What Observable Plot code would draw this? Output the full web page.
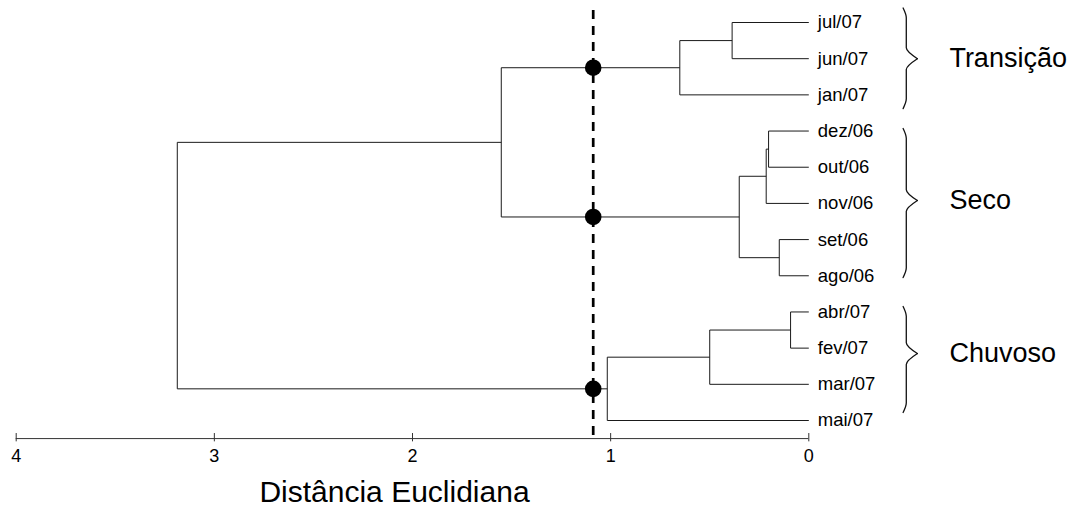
<!DOCTYPE html>
<html>
<head>
<meta charset="utf-8">
<script src="https://cdn.jsdelivr.net/npm/d3@7"></script>
<script src="https://cdn.jsdelivr.net/npm/@observablehq/plot@0.6"></script>
<style>
  html, body { margin: 0; padding: 0; background: #fff; }
</style>
</head>
<body>
<div id="chart"></div>
<script>
// ---- Data ----
const leaves = ["jul/07", "jun/07", "jan/07", "dez/06", "out/06", "nov/06", "set/06", "ago/06", "abr/07", "fev/07", "mar/07", "mai/07"];
// hclust-style merges: negative = leaf (1-based), positive = earlier merge (1-based)
const mergeLeft   = [-1, 1, -4, 3, -7, 4, 2, -9, 8, 9, 7];
const mergeRight  = [-2, -3, -5, -6, -8, 5, 6, -10, -11, -12, 10];
const mergeHeight = [0.387, 0.651, 0.203, 0.215, 0.149, 0.351, 1.552, 0.092, 0.500, 1.017, 3.187];
const cutHeight = 1.088;
const xTicks = [0, 1, 2, 3, 4];
const groupNames  = ["Transição", "Seco", "Chuvoso"];
const braceTop    = [-0.40, 2.93, 7.85];
const braceBottom = [2.38, 7.05, 10.78];
const braceMid    = [1.0, 4.92, 9.15];
const axisTitle = "Distância Euclidiana";

// ---- Build dendrogram geometry from the merges ----
const nodeY = [], nodeH = [], parentH = [];
function childY(c) { return c < 0 ? (-c - 1) : nodeY[c - 1]; }
function childH(c) { return c < 0 ? 0 : nodeH[c - 1]; }
const segments = [];
mergeLeft.forEach((a, i) => {
  const b = mergeRight[i], h = mergeHeight[i];
  const ya = childY(a), yb = childY(b);
  nodeY[i] = (ya + yb) / 2;
  nodeH[i] = h;
  [a, b].forEach(c => { if (c > 0) parentH[c - 1] = h; });
  segments.push({x1: h, y1: ya, x2: h, y2: yb});
  segments.push({x1: childH(a), y1: ya, x2: h, y2: ya});
  segments.push({x1: childH(b), y1: yb, x2: h, y2: yb});
});
const clusterNodes = nodeH.map((h, i) => ({h, y: nodeY[i], p: parentH[i]}))
  .filter(d => d.h < cutHeight && d.p !== undefined && d.p > cutHeight);

// Braces (two halves each, so the tip is a cusp)
const braceEndX = -0.476, braceSpineX = -0.492, braceTipX = -0.548;
const braces = [];
groupNames.forEach((g, i) => {
  const t = braceTop[i], b = braceBottom[i], m = braceMid[i];
  const c = 0.27, e = 0.3;
  braces.push({z: g + "a", x: braceEndX, y: t}, {z: g + "a", x: braceSpineX, y: t + c},
              {z: g + "a", x: braceSpineX, y: m - e}, {z: g + "a", x: braceTipX, y: m});
  braces.push({z: g + "b", x: braceTipX, y: m}, {z: g + "b", x: braceSpineX, y: m + e},
              {z: g + "b", x: braceSpineX, y: b - c}, {z: g + "b", x: braceEndX, y: b});
});
const groups = groupNames.map((g, i) => ({g, y: braceMid[i]}));
const axisY = leaves.length - 0.5;

const chart = Plot.plot({
  width: 1073,
  height: 507,
  marginLeft: 15.7,
  marginRight: 264.7,
  marginTop: 0,
  marginBottom: 68.7,
  x: {domain: [4, 0], range: [15.7, 808.3], axis: null},
  y: {domain: [0, leaves.length - 1], range: [22, 420], axis: null},
  style: {fontFamily: "'Liberation Sans', Arial, Helvetica, sans-serif", background: "#fff", color: "#000"},
  marks: [
    Plot.link(segments, {x1: "x1", y1: "y1", x2: "x2", y2: "y2", stroke: "#1a1a1a", strokeWidth: 1}),
    Plot.text(leaves, {x: () => 0, y: (d, i) => i, text: d => d, textAnchor: "start", dx: 9, fontSize: 18.5, fill: "#000"}),
    // axis
    Plot.ruleY([axisY], {x1: () => xTicks[xTicks.length - 1], x2: () => xTicks[0], stroke: "#333", strokeWidth: 1}),
    Plot.ruleX(xTicks, {x: d => d, y1: () => axisY - 0.14, y2: () => axisY + 0.09, stroke: "#333", strokeWidth: 1}),
    Plot.text(xTicks, {x: d => d, y: () => axisY, dy: 17.5, text: d => String(d), fontSize: 18, fill: "#000"}),
    Plot.text([axisTitle], {frameAnchor: "bottom", lineAnchor: "middle", dx: -18, dy: 53.4, text: d => d, fontSize: 30, fill: "#000"}),
    // cut line and cluster dots
    Plot.ruleX([cutHeight], {x: d => d, y1: () => -0.33, y2: () => axisY, stroke: "#000", strokeWidth: 2.7, strokeDasharray: "9,7"}),
    Plot.dot(clusterNodes, {x: () => cutHeight, y: "y", r: 8.3, fill: "#000", stroke: "none"}),
    // braces and group labels
    Plot.line(braces, {x: "x", y: "y", z: "z", curve: "monotone-y", stroke: "#111", strokeWidth: 1.3}),
    Plot.text(groups, {x: () => braceTipX, y: "y", text: "g", textAnchor: "start", dx: 32, fontSize: 27, fill: "#000"})
  ]
});
document.getElementById("chart").appendChild(chart);
</script>
</body>
</html>
